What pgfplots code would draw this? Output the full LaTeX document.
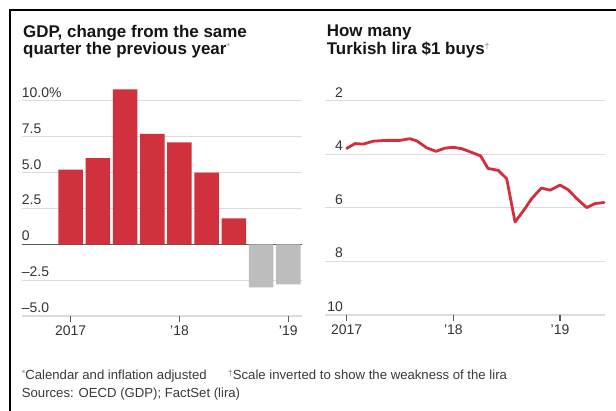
\documentclass[border=0pt]{standalone}
\usepackage{pgfplots}
\pgfplotsset{compat=1.18}
\usepackage{fontspec}
\setmainfont{Liberation Sans}
\definecolor{barred}{HTML}{D1303D}
\definecolor{linered}{HTML}{D42E3A}
\definecolor{bargray}{HTML}{BDBDBD}
\definecolor{gridgray}{HTML}{DCDCDC}
\definecolor{zerogray}{HTML}{5A5A5A}
\definecolor{tickgray}{HTML}{333333}
\definecolor{titleblack}{HTML}{151515}
\definecolor{notegray}{HTML}{3A3A3A}

\pgfplotstableread{
x y
0 5.2
1 6.0
2 10.8
3 7.7
4 7.1
5 5.0
6 1.8
}\gdpred
\pgfplotstableread{
x y
7 -3.0
8 -2.8
}\gdpgray
\pgfplotstableread{
m v
0 3.78
0.94 3.60
1.87 3.62
3.0 3.51
4.5 3.48
6.0 3.48
7.1 3.42
7.9 3.50
9.0 3.76
10.05 3.89
11.06 3.77
12.0 3.74
12.94 3.79
13.9 3.91
15.07 4.06
15.9 4.53
17.05 4.60
18.0 4.91
18.94 6.53
20.05 6.03
20.8 5.66
21.9 5.26
22.9 5.34
24.0 5.15
24.9 5.32
25.87 5.65
27.0 5.99
27.94 5.84
28.95 5.80
}\lira

\pgfplotsset{
  wsj/.style={
    scale only axis,
    axis line style={draw=none},
    tick align=outside,
    major tick length=6bp,
    xtick style={draw=zerogray, line width=1.3bp},
    ytick style={draw=none},
    ymajorgrids,
    grid style={draw=gridgray, line width=1.2bp},
    ticklabel style={font=\fontsize{14}{16}\selectfont, text=tickgray},
    clip=false,
  }
}

\begin{document}
\begin{tikzpicture}
\useasboundingbox (0,0) rectangle (616bp,-411bp);
\fill[white] (0,0) rectangle (616bp,-411bp);

% left panel
\begin{axis}[wsj,
  at={(21.7bp,-316bp)}, anchor=south west,
  width=280bp, height=229.6bp,
  xmin=-1.8, xmax=8.494, ymin=-5, ymax=11,
  xtick={0,4,8}, xticklabels={2017,’18,’19},
  xtick pos=left, xticklabel pos=left,
  ytick={-5,-2.5,2.5,5,7.5,10},
  yticklabels={–5.0,–2.5,2.5,5.0,7.5,10.0\%},
  extra y ticks={0}, extra y tick labels={0},
  extra y tick style={grid style={draw=zerogray, line width=1.5bp}},
  yticklabel style={anchor=base west, inner sep=0pt, xshift=6bp, yshift=3.5bp},
  ytick pos=left,
]
\addplot[ybar, bar width=0.9, bar shift=0pt, fill=barred, draw=none] table[x=x,y=y] {\gdpred};
\addplot[ybar, bar width=0.9, bar shift=0pt, fill=bargray, draw=none] table[x=x,y=y] {\gdpgray};
\end{axis}

% right panel
\begin{axis}[wsj,
  at={(325bp,-315bp)}, anchor=south west,
  width=280bp, height=214.3bp,
  y dir=reverse,
  xmin=-2.44, xmax=29.06, ymin=2, ymax=10,
  xtick={0,12,24}, xticklabels={2017,’18,’19},
  xtick pos=left, xticklabel pos=left,
  ytick={2,4,6,8,10}, yticklabels={2,4,6,8,10},
  yticklabel style={anchor=base east, inner sep=0pt, xshift=24bp, yshift=3.5bp},
  ytick pos=left,
]
\addplot[linered, line width=2.8bp, line join=round, line cap=round] table[x=m,y=v] {\lira};
\end{axis}

% frame
\draw[black, line width=2bp, line join=miter] (10.3bp,-411bp) -- (10.3bp,-10.3bp) -- (616bp,-10.3bp);

% titles
\node[anchor=base west, inner sep=0pt, font=\fontsize{17}{17}\selectfont\bfseries, text=titleblack] at (23bp,-37bp) {GDP, change from the same};
\node[anchor=base west, inner sep=0pt, font=\fontsize{17}{17}\selectfont\bfseries, text=titleblack] at (23bp,-54bp) {quarter the previous year\raisebox{5bp}{\fontsize{9}{9}\selectfont\mdseries\color{black!45}*}};
\node[anchor=base west, inner sep=0pt, font=\fontsize{17}{17}\selectfont\bfseries, text=titleblack] at (326.7bp,-36bp) {How many};
\node[anchor=base west, inner sep=0pt, font=\fontsize{17}{17}\selectfont\bfseries, text=titleblack] at (326.7bp,-54bp) {Turkish lira \$1 buys\raisebox{5bp}{\fontsize{9}{9}\selectfont\mdseries\color{black!45}†}};

% notes
\node[anchor=base west, inner sep=0pt, font=\fontsize{13.2}{14}\selectfont, text=notegray] at (21.7bp,-379.3bp) {\raisebox{3bp}{\fontsize{9}{9}\selectfont\color{black!50}*}Calendar and inflation adjusted};
\node[anchor=base west, inner sep=0pt, font=\fontsize{13.2}{14}\selectfont, text=notegray] at (227.7bp,-379.3bp) {\raisebox{3bp}{\fontsize{9}{9}\selectfont\color{black!50}†}Scale inverted to show the weakness of the lira};
\node[anchor=base west, inner sep=0pt, font=\fontsize{13.2}{14}\selectfont, text=notegray] at (21.7bp,-397.3bp) {Sources: OECD (GDP); FactSet (lira)};
\end{tikzpicture}
\end{document}
